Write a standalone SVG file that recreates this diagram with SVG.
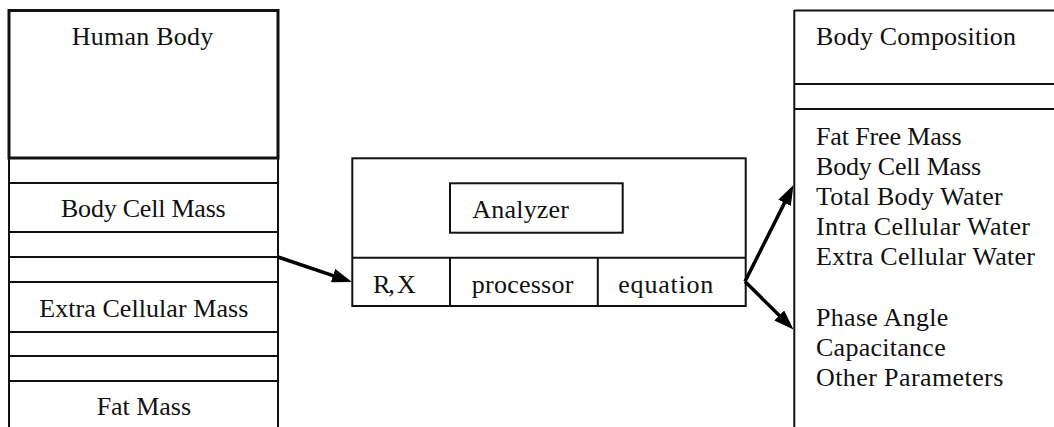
<svg xmlns="http://www.w3.org/2000/svg" width="1054" height="427" viewBox="0 0 1054 427">
<style>
  text { font-family: "Liberation Serif", "Times New Roman", serif; font-size: 26px; fill: #111; }
  .ln { stroke: #111; stroke-width: 2; fill: none; }
  .thick { stroke: #111; stroke-width: 3; fill: none; }
  .arrow { stroke: #000; stroke-width: 3.5; fill: none; marker-end: url(#ah); }
</style>
<defs>
  <marker id="ah" markerUnits="userSpaceOnUse" viewBox="0 0 20 14" markerWidth="20" markerHeight="14" refX="14" refY="7" orient="auto">
    <path d="M0,0 L20,7 L0,14 z" fill="#000"/>
  </marker>
</defs>
<rect width="1054" height="427" fill="#fff"/>

<g id="human-body-column">
  <line class="ln" x1="9" y1="10" x2="9" y2="427"/>
  <line class="ln" x1="278" y1="10" x2="278" y2="427"/>
  <rect class="thick" x="9" y="10.5" width="269" height="147.5"/>
  <line class="ln" x1="9" y1="183" x2="278" y2="183"/>
  <line class="ln" x1="9" y1="232" x2="278" y2="232"/>
  <line class="ln" x1="9" y1="257" x2="278" y2="257"/>
  <line class="ln" x1="9" y1="282" x2="278" y2="282"/>
  <line class="ln" x1="9" y1="332" x2="278" y2="332"/>
  <line class="ln" x1="9" y1="356" x2="278" y2="356"/>
  <line class="ln" x1="9" y1="381" x2="278" y2="381"/>
  <text x="71.7" y="45" textLength="141.6">Human Body</text>
  <text x="61" y="217.3" textLength="164.7">Body Cell Mass</text>
  <text x="39.3" y="316.7" textLength="209">Extra Cellular Mass</text>
  <text x="96.7" y="415" textLength="94.3">Fat Mass</text>
</g>

<g id="analyzer">
  <rect class="ln" x="352.3" y="158.3" width="393.4" height="147.7"/>
  <line class="ln" x1="352.3" y1="257.7" x2="745.7" y2="257.7"/>
  <line class="ln" x1="450" y1="257.7" x2="450" y2="306"/>
  <line class="ln" x1="597.8" y1="257.7" x2="597.8" y2="306"/>
  <rect class="ln" x="450" y="183.3" width="172.7" height="49.4"/>
  <text x="472.3" y="217.7" textLength="96.7">Analyzer</text>
  <text x="373" y="293.3" textLength="42.7">R, X</text>
  <text x="471.7" y="293.3" textLength="101.7">processor</text>
  <text x="618.3" y="293.3" textLength="95">equation</text>
</g>

<g id="body-composition">
  <line class="ln" x1="794.3" y1="10" x2="794.3" y2="427"/>
  <line class="ln" x1="794.3" y1="10.5" x2="1054" y2="10.5"/>
  <line class="ln" x1="794.3" y1="84" x2="1054" y2="84"/>
  <line class="ln" x1="794.3" y1="109" x2="1054" y2="109"/>
  <text x="816" y="45" textLength="200">Body Composition</text>
  <text x="816" y="145" textLength="145.7">Fat Free Mass</text>
  <text x="816" y="175" textLength="165">Body Cell Mass</text>
  <text x="816" y="204.5" textLength="186.7">Total Body Water</text>
  <text x="816" y="235" textLength="214">Intra Cellular Water</text>
  <text x="816" y="265" textLength="219">Extra Cellular Water</text>
  <text x="816" y="326" textLength="132.3">Phase Angle</text>
  <text x="816" y="356" textLength="129.7">Capacitance</text>
  <text x="816" y="385.5" textLength="187.3">Other Parameters</text>
</g>

<g id="connectors">
  <path class="arrow" d="M278,257 L346.3,280.1"/>
  <path class="arrow" d="M745,281.5 L790.8,190.4"/>
  <path class="arrow" d="M745,281.5 L789.2,325.3"/>
</g>
</svg>
